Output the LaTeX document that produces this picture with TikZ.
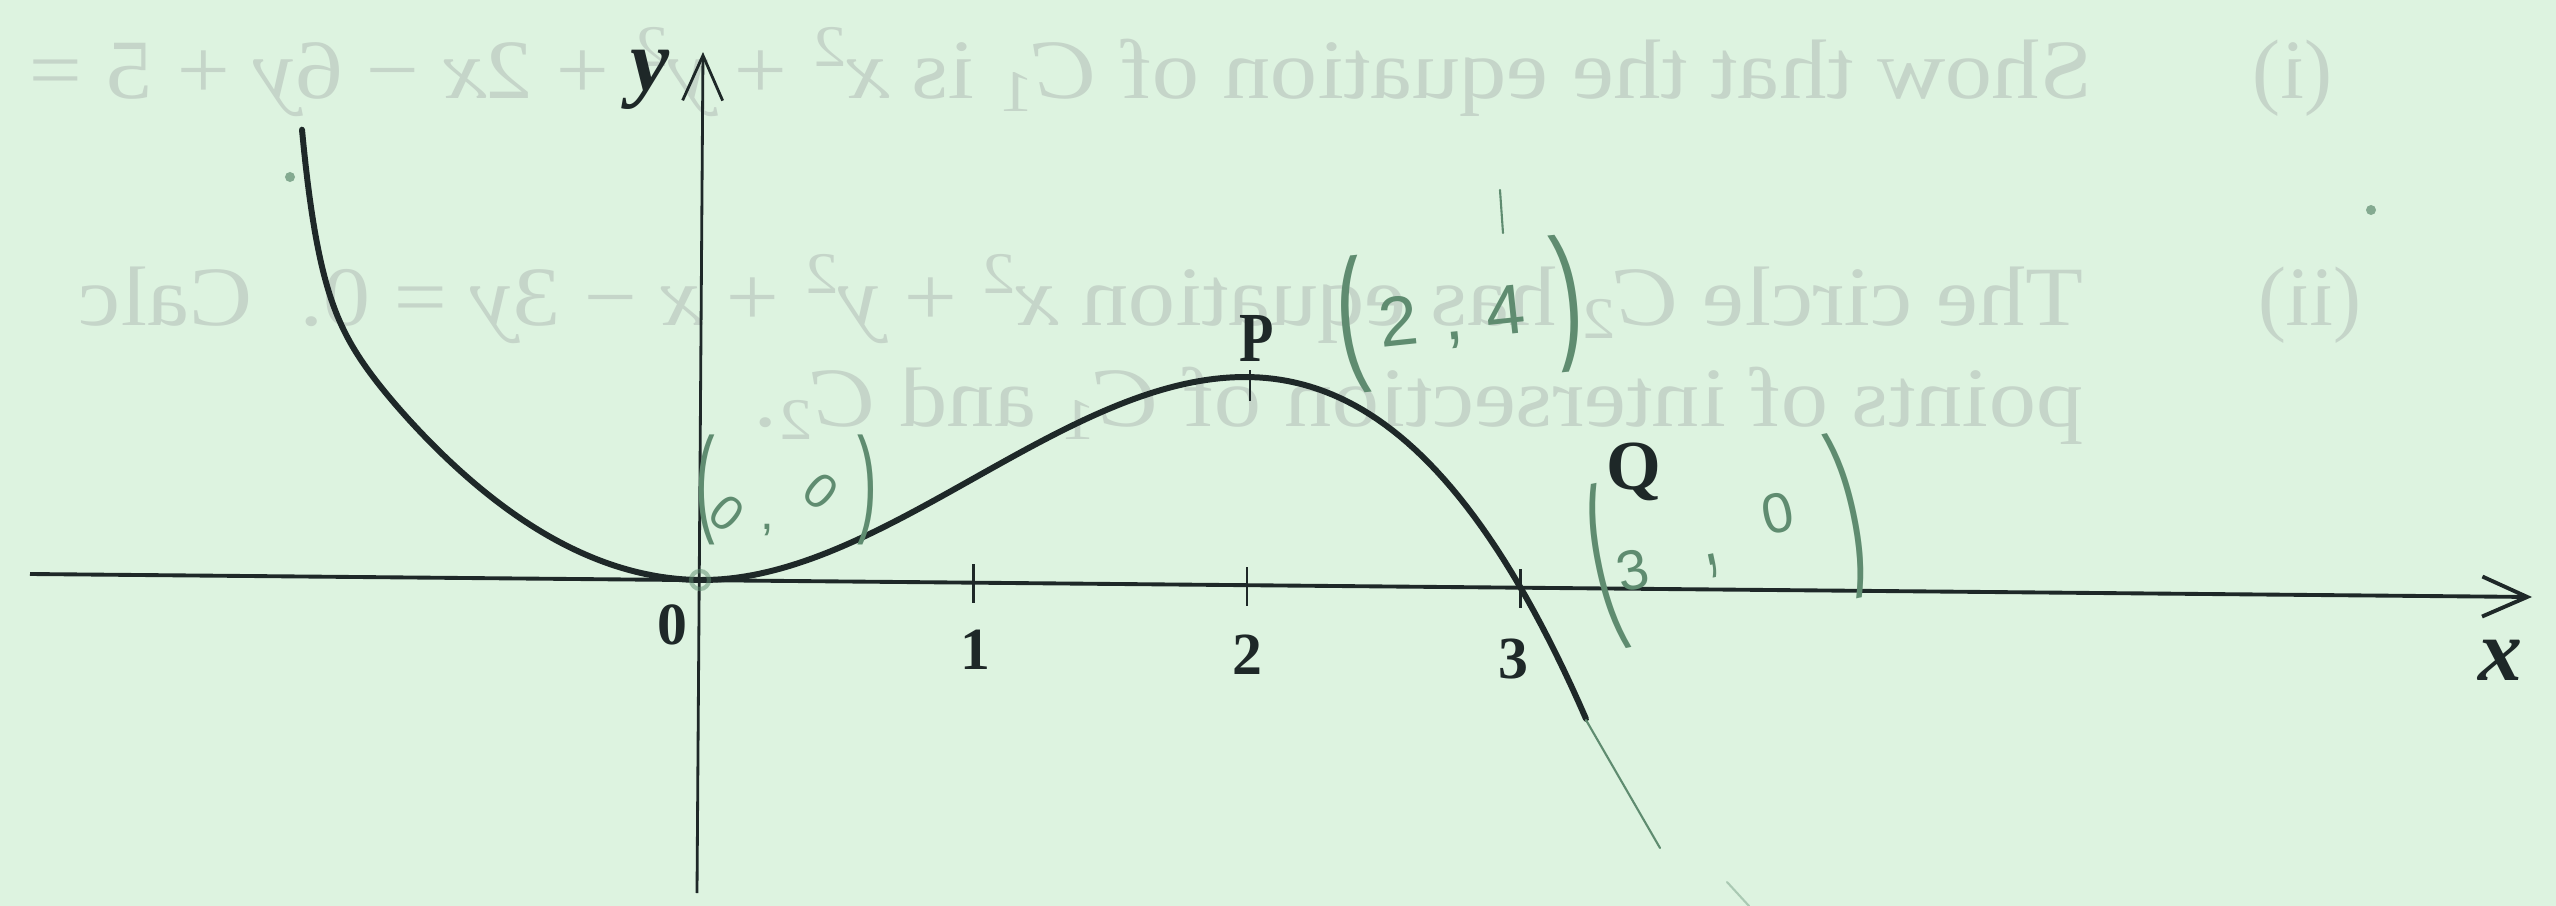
\documentclass[tikz,border=0pt]{standalone}
\usepackage{fontspec}
\setmainfont{Liberation Serif}
\newfontfamily\handfont{Liberation Sans}
\usepackage{graphicx}
\usetikzlibrary{arrows.meta}
\definecolor{paper}{RGB}{221,243,224}
\definecolor{ink}{RGB}{30,40,40}
\definecolor{pencil}{RGB}{95,140,112}
\definecolor{ghost}{RGB}{197,213,201}
\begin{document}
\begin{tikzpicture}[x=0.01cm, y=-0.01cm,
  axisx/.style={ink, line width=1.1pt},
  axisy/.style={ink, line width=0.8pt},
  axisarrow/.style={-{Straight Barb[length=0.45cm, width=0.4cm]}},
  curve/.style={ink, line width=1.7pt, line cap=round, line join=round},
  tickmark/.style={ink, line width=0.8pt},
  lab/.style={ink, inner sep=0pt, font=\fontsize{17}{20}\selectfont\bfseries},
  biglab/.style={ink, inner sep=0pt, font=\fontsize{20}{24}\selectfont\bfseries},
  axlab/.style={ink, inner sep=0pt, font=\fontsize{25}{30}\selectfont\bfseries\itshape},
  ghosttext/.style={ghost, inner sep=0pt, font=\fontsize{24}{28}\selectfont},
  hand/.style={pencil, inner sep=0pt},
  pencilline/.style={pencil, line width=0.6pt, line cap=round}]
\useasboundingbox (0,0) rectangle (2556,906);
\clip (0,0) rectangle (2556,906);
\fill[paper] (0,0) rectangle (2556,906);

% faint mirrored show-through text
\node[ghosttext, anchor=base east] (q1n) at (2333,98) {\reflectbox{(i)}};
\node[ghosttext, anchor=base east] (q1) at (2093,98) {\scalebox{-1.12}[1]{Show that the equation of \textit{C}\textsubscript{1} is \textit{x}\textsuperscript{2} + \textit{y}\textsuperscript{2} + 2\textit{x} − 6\textit{y} + 5 =}};
\node[ghosttext, anchor=base east] (q2n) at (2362,325) {\reflectbox{(ii)}};
\node[ghosttext, anchor=base east] (q2) at (2084,325) {\scalebox{-1.12}[1]{The circle \textit{C}\textsubscript{2} has equation \textit{x}\textsuperscript{2} + \textit{y}\textsuperscript{2} + \textit{x} − 3\textit{y} = 0.\ \ Calc}};
\node[ghosttext, anchor=base east] (q3) at (2084,426) {\scalebox{-1.12}[1]{points of intersection of \textit{C}\textsubscript{1} and \textit{C}\textsubscript{2}.}};

% axes
\coordinate (xl) at (30,574);
\coordinate (xr) at (2532,597);
\coordinate (yb) at (697,893);
\coordinate (yt) at (703,52);
\draw[axisx, axisarrow] (xl) -- (xr);
\draw[axisy, axisarrow] (yb) -- (yt);

% ticks
\coordinate (t1a) at (973.5,564); \coordinate (t1b) at (973.5,603);
\coordinate (t2a) at (1247,567);  \coordinate (t2b) at (1247,606);
\coordinate (t3a) at (1520.5,569); \coordinate (t3b) at (1520.5,608);
\draw[tickmark] (t1a) -- (t1b);
\draw[tickmark] (t2a) -- (t2b);
\draw[tickmark] (t3a) -- (t3b);

% curve
\draw[curve]
  plot[domain=0:3.98, samples=220, variable=\s]
    ({302+100*\s}, {580-0.92*(3.98-\s)-18.6*(3.98-\s)*(3.98-\s)-152*((3.98-\s)/3.98)^24})
  -- plot[domain=0:3.24, samples=120, variable=\t]
    ({700+273.5*\t}, {580+2.516*\t-52*(3*\t*\t-\t*\t*\t)});
\coordinate (cend) at (1586,720);
\coordinate (pa) at (1250,370); \coordinate (pb) at (1250,401);
\draw[tickmark] (pa) -- (pb);

% labels
\node[axlab] (ylab) at (650,80) {y};
\node[axlab] (xlab) at (2500,660) {x};
\node[lab] (l0) at (672,625) {0};
\node[lab] (l1) at (975,650) {1};
\node[lab] (l2) at (1247,655) {2};
\node[lab] (l3) at (1513,659) {3};
\node[biglab, xscale=0.8] (lP) at (1257,338) {P};
\node[biglab] (lQ) at (1634,472) {Q};

% pencil annotations
\node[hand, rotate=6, font=\handfont\fontsize{20}{24}\selectfont] (a24) at (1460,314)
 {\raisebox{-0.19em}{\scalebox{1.2}[2.1]{(}}\hspace{0.18em}2\hspace{0.37em},\hspace{0.33em}4\hspace{0.42em}\raisebox{-0.19em}{\scalebox{1.2}[2.1]{)}}};
\node[hand, font=\handfont\fontsize{14}{17}\selectfont] (a00) at (786,490)
 {\raisebox{-0.26em}{\scalebox{1.2}[2.4]{(}}\hspace{-0.2em}\raisebox{-0.45em}{\rotatebox[origin=c]{-40}{0}}\hspace{0.25em}\raisebox{-0.45em}{,}\hspace{0.5em}\rotatebox[origin=c]{-40}{0}\hspace{0.3em}\raisebox{-0.26em}{\scalebox{1.2}[2.4]{)}}};
\node[hand, rotate=12, font=\handfont\fontsize{16}{19}\selectfont] (a30) at (1727,541)
 {\raisebox{-0.47em}{\scalebox{1.2}[3.2]{(}}\raisebox{-0.15em}{3}\hspace{1.0em}\scalebox{1}[1.8]{,}\hspace{0.9em}\raisebox{0.3em}{0}\hspace{0.77em}\raisebox{-0.47em}{\scalebox{1.2}[3.2]{)}}};
\coordinate (pend) at (1660,848);
\draw[pencilline] (cend) -- (pend);
\coordinate (s1) at (1500,190); \coordinate (s2) at (1503,233);
\draw[pencilline] (s1) -- (s2);
\coordinate (o) at (700,580);
\draw[pencil, opacity=0.5, line width=1.2pt] (o) circle[radius=0.09cm];
\fill[pencil, opacity=0.7] (290,177) circle[radius=0.05cm];
\fill[pencil, opacity=0.7] (2371,210) circle[radius=0.05cm];
\coordinate (f1) at (1727,882); \coordinate (f2) at (1749,906);
\draw[pencilline, opacity=0.4] (f1) -- (f2);
\end{tikzpicture}
\end{document}
